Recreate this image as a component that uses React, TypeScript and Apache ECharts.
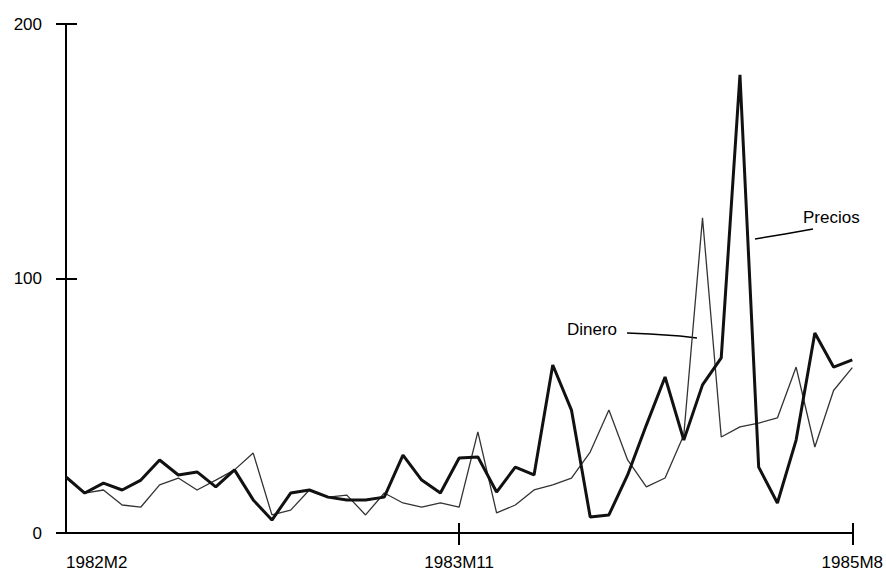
import React, { useEffect, useRef } from "react";
import * as echarts from "echarts";

// Monthly categories 1982M2 .. 1985M8
const categories: string[] = [];
for (let y = 1982; y <= 1985; y++) {
  for (let m = 1; m <= 12; m++) {
    if (y === 1982 && m < 2) continue;
    if (y === 1985 && m > 8) continue;
    categories.push(`${y}M${m}`);
  }
}

const tickLabels = ["1982M2", "1983M11", "1985M8"];

const precios = [
  22.0, 15.7, 19.6, 16.9, 20.8, 28.7, 22.8, 24.0, 18.1, 24.8,
  13.0, 5.1, 15.7, 16.9, 14.1, 13.0, 13.0, 14.1, 30.6, 20.8,
  15.7, 29.5, 29.9, 16.1, 25.9, 22.8, 66.0, 48.3, 6.3, 7.1,
  22.8, 42.4, 61.3, 36.5, 58.2, 68.8, 180.0, 25.9, 11.8, 36.5,
  78.6, 65.2, 68.0,
];

const dinero = [
  22.0, 15.7, 16.9, 11.0, 10.2, 18.9, 21.6, 16.9, 20.8, 24.8,
  31.4, 7.1, 9.0, 16.9, 14.1, 14.9, 7.1, 15.7, 11.8, 10.2,
  11.8, 10.2, 39.7, 7.9, 11.0, 16.9, 18.9, 21.6, 31.8, 48.3,
  28.7, 18.1, 21.6, 38.5, 123.8, 37.7, 41.7, 43.2, 45.2, 65.2,
  33.8, 56.0, 65.0,
];

const yTicks = { min: 0, max: 200, interval: 100 };

const FONT = "Liberation Sans, Arial, sans-serif";

export default function App() {
  const ref = useRef<HTMLDivElement>(null);

  useEffect(() => {
    if (!ref.current) return;
    const chart = echarts.init(ref.current, undefined, { renderer: "svg" });
    const showTick = (_i: number, v: string) => tickLabels.includes(v);
    const showInnerTick = (i: number, v: string) => i > 0 && tickLabels.includes(v);
    const black = { color: "#000", width: 2 };

    chart.setOption({
      animation: false,
      backgroundColor: "#fff",
      grid: { left: 66, right: 31, top: 24, bottom: 40, containLabel: false },
      xAxis: [
        {
          type: "category",
          data: categories,
          boundaryGap: false,
          position: "bottom",
          axisLine: { lineStyle: black },
          axisTick: { show: true, interval: showInnerTick, length: 12, lineStyle: black },
          axisLabel: {
            interval: showTick,
            margin: 21,
            fontSize: 17,
            color: "#000",
            fontFamily: FONT,
            alignMinLabel: "left",
          },
          splitLine: { show: false },
        },
        {
          type: "category",
          data: categories,
          boundaryGap: false,
          position: "bottom",
          axisLine: { show: false },
          axisLabel: { show: false },
          axisTick: { show: true, inside: true, interval: showInnerTick, length: 10, lineStyle: black },
          splitLine: { show: false },
        },
      ],
      yAxis: [
        {
          type: "value",
          ...yTicks,
          position: "left",
          axisLine: { show: true, lineStyle: black },
          axisTick: { show: true, length: 10, lineStyle: black },
          axisLabel: {
            margin: 24,
            fontSize: 17,
            color: "#000",
            fontFamily: FONT,
            padding: [8, 0, 0, 0],
          },
          splitLine: { show: false },
        },
        {
          type: "value",
          ...yTicks,
          position: "left",
          axisLine: { show: false },
          axisTick: { show: true, inside: true, length: 11, lineStyle: black },
          axisLabel: { show: false },
          splitLine: { show: false },
        },
      ],
      series: [
        {
          name: "Dinero",
          type: "line",
          data: dinero,
          showSymbol: false,
          lineStyle: { color: "#333", width: 1.3 },
          z: 2,
        },
        {
          name: "Precios",
          type: "line",
          data: precios,
          showSymbol: false,
          lineStyle: { color: "#111", width: 3 },
          z: 3,
        },
      ],
      graphic: [
        {
          type: "text",
          x: 567,
          y: 329,
          style: { text: "Dinero", font: `17px ${FONT}`, fill: "#000", textVerticalAlign: "middle" },
        },
        {
          type: "polyline",
          shape: { points: [[627, 333], [650, 334], [680, 336], [697, 338]] },
          style: { stroke: "#000", lineWidth: 1.5, fill: null },
        },
        {
          type: "text",
          x: 803,
          y: 217,
          style: { text: "Precios", font: `17px ${FONT}`, fill: "#000", textVerticalAlign: "middle" },
        },
        {
          type: "polyline",
          shape: { points: [[755, 239], [785, 234], [813, 229]] },
          style: { stroke: "#000", lineWidth: 1.5, fill: null },
        },
      ],
    });

    return () => chart.dispose();
  }, []);

  return (
    <div
      ref={ref}
      style={{ position: "fixed", left: 0, top: 0, width: 886, height: 573, background: "#fff" }}
    />
  );
}
